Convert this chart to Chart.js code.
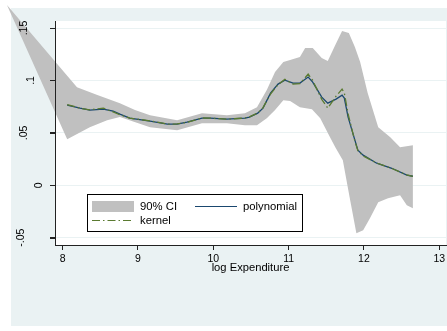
<!DOCTYPE html>
<html>
<head>
<meta charset="utf-8">
<script src="https://cdn.jsdelivr.net/npm/chart.js@4.4.0/dist/chart.umd.min.js"></script>
<style>
  html, body { margin: 0; padding: 0; background: #ffffff; }
  #wrap { width: 447px; height: 331px; position: relative; }
</style>
</head>
<body>
<div id="wrap"><canvas id="chart" width="447" height="331"></canvas></div>
<script>
// Axis ticks
const xTicks = [8, 9, 10, 11, 12, 13];
const yTicks = [-0.05, 0, 0.05, 0.1, 0.15];
const yTickLabels = ['-.05', '0', '.05', '.1', '.15'];

// 90% confidence band: upper bound
const ciUpperX = [7.26, 8.19, 8.46, 8.76, 8.96, 9.16, 9.52, 9.85, 10.18, 10.42, 10.58, 10.71, 10.82, 10.93, 11.02, 11.15, 11.22, 11.32, 11.44, 11.52, 11.62, 11.71, 11.80, 11.88, 11.95, 12.05, 12.19, 12.35, 12.48, 12.65];
const ciUpper  = [0.172, 0.0936, 0.0860, 0.0783, 0.0717, 0.0669, 0.0621, 0.0688, 0.0669, 0.0688, 0.0745, 0.0908, 0.1080, 0.1175, 0.1194, 0.1223, 0.1309, 0.1309, 0.1213, 0.1185, 0.1338, 0.1471, 0.1452, 0.1318, 0.1175, 0.0879, 0.0554, 0.0459, 0.0363, 0.0382];

// 90% confidence band: lower bound
const ciLowerX = [7.26, 8.06, 8.36, 8.59, 8.76, 9.16, 9.52, 9.85, 10.18, 10.42, 10.58, 10.71, 10.82, 10.93, 11.02, 11.15, 11.31, 11.42, 11.55, 11.62, 11.72, 11.81, 11.90, 11.99, 12.08, 12.19, 12.32, 12.48, 12.57, 12.65];
const ciLower  = [0.172, 0.0439, 0.0554, 0.0621, 0.0650, 0.0554, 0.0525, 0.0592, 0.0592, 0.0573, 0.0573, 0.0640, 0.0717, 0.0812, 0.0803, 0.0745, 0.0726, 0.0640, 0.0459, 0.0363, 0.0239, -0.0115, -0.0459, -0.0430, -0.0315, -0.0163, -0.0124, -0.0096, -0.0191, -0.0220];

// Fitted curves on a shared grid of log expenditure
const fitX  = [8.06, 8.23, 8.36, 8.54, 8.67, 8.76, 8.89, 9.16, 9.39, 9.52, 9.65, 9.85, 9.96, 10.18, 10.42, 10.48, 10.59, 10.66, 10.76, 10.86, 10.95, 11.06, 11.15, 11.26, 11.32, 11.44, 11.52, 11.63, 11.71, 11.74, 11.79, 11.88, 11.92, 11.99, 12.17, 12.37, 12.57, 12.65];
const polynomial = [0.0765, 0.0736, 0.0717, 0.0726, 0.0707, 0.0678, 0.0640, 0.0611, 0.0583, 0.0583, 0.0602, 0.0640, 0.0640, 0.0631, 0.0640, 0.0650, 0.0688, 0.0736, 0.0879, 0.0965, 0.1003, 0.0975, 0.0975, 0.1032, 0.0984, 0.0841, 0.0783, 0.0822, 0.0860, 0.0832, 0.0650, 0.0430, 0.0334, 0.0287, 0.0210, 0.0162, 0.0096, 0.0086];
const kernel     = [0.0770, 0.0735, 0.0720, 0.0735, 0.0700, 0.0672, 0.0640, 0.0615, 0.0583, 0.0585, 0.0600, 0.0642, 0.0640, 0.0630, 0.0641, 0.0652, 0.0690, 0.0740, 0.0870, 0.0960, 0.1012, 0.0965, 0.0970, 0.1060, 0.1000, 0.0820, 0.0736, 0.0850, 0.0917, 0.0880, 0.0680, 0.0420, 0.0330, 0.0280, 0.0212, 0.0160, 0.0098, 0.0085];

const FONT = "'Liberation Sans', Arial, Helvetica, sans-serif";
const BG = '#eaf2f3';
const AXIS = '#222222';
const CI_FILL = '#c0c0c0';
const POLY_COLOR = '#1a476f';
const KERN_COLOR = '#5a7a30';
const KERN_DASH = [8, 3, 1.5, 3];

// Horizontal nudge (px) of each vertical y label: short labels sit nearer the axis
const Y_LABEL_NUDGE = [-6, 12, -3, 4, -2.5];

const pts = (xs, ys) => xs.map((x, i) => ({ x: x, y: ys[i] }));

// Graph region and white plot region behind everything
const backdrop = {
  id: 'backdrop',
  beforeDraw(chart) {
    const { ctx, chartArea: a, width, height } = chart;
    ctx.save();
    ctx.fillStyle = '#ffffff';
    ctx.fillRect(0, 0, width, height);
    ctx.fillStyle = BG;
    ctx.fillRect(11, 8, width - 11, height - 13);
    ctx.fillStyle = '#ffffff';
    ctx.fillRect(a.left, a.top, a.right - a.left, a.bottom - a.top);
    ctx.restore();
  }
};

// Confidence band: polygon through the upper points and back along the lower points,
// left unclipped so it runs past the plot region like the original graph
const band = {
  id: 'band',
  beforeDatasetsDraw(chart) {
    const up = chart.getDatasetMeta(0).data;
    const lo = chart.getDatasetMeta(1).data;
    const ctx = chart.ctx;
    ctx.save();
    ctx.beginPath();
    up.forEach((p, i) => (i ? ctx.lineTo(p.x, p.y) : ctx.moveTo(p.x, p.y)));
    for (let i = lo.length - 1; i >= 0; i--) ctx.lineTo(lo[i].x, lo[i].y);
    ctx.closePath();
    ctx.fillStyle = CI_FILL;
    ctx.fill();

    // y tick marks stay visible above the band
    const ys = chart.scales.y;
    ctx.strokeStyle = AXIS;
    ctx.lineWidth = 1;
    yTicks.forEach(v => {
      const py = Math.round(ys.getPixelForValue(v)) + 0.5;
      ctx.beginPath();
      ctx.moveTo(ys.right - 5, py);
      ctx.lineTo(ys.right, py);
      ctx.stroke();
    });
    ctx.restore();
  }
};

// Boxed key inside the plot region
const keyBox = {
  id: 'keyBox',
  afterDatasetsDraw(chart) {
    const { ctx, chartArea: a } = chart;
    const left = a.left + 32, top = a.top + 173, w = 216, h = 38;
    ctx.save();
    ctx.fillStyle = '#ffffff';
    ctx.fillRect(left, top, w, h);
    ctx.strokeStyle = '#000000';
    ctx.lineWidth = 1;
    ctx.strokeRect(left + 0.5, top + 0.5, w - 1, h - 1);

    const row1 = top + 12.5, row2 = top + 26.5;
    ctx.fillStyle = CI_FILL;
    ctx.fillRect(left + 5, top + 7, 42, 11);

    ctx.lineWidth = 1.2;
    ctx.strokeStyle = POLY_COLOR;
    ctx.beginPath();
    ctx.moveTo(left + 108, row1);
    ctx.lineTo(left + 150, row1);
    ctx.stroke();

    ctx.strokeStyle = KERN_COLOR;
    ctx.setLineDash(KERN_DASH);
    ctx.beginPath();
    ctx.moveTo(left + 5, row2);
    ctx.lineTo(left + 47, row2);
    ctx.stroke();
    ctx.setLineDash([]);

    ctx.fillStyle = '#000000';
    ctx.font = '11.3px ' + FONT;
    ctx.textBaseline = 'middle';
    ctx.textAlign = 'left';
    ctx.fillText('90% CI', left + 53, row1);
    ctx.fillText('polynomial', left + 156, row1);
    ctx.fillText('kernel', left + 53, row2);
    ctx.restore();
  }
};

new Chart(document.getElementById('chart'), {
  type: 'line',
  data: {
    datasets: [
      {
        label: '90% CI',
        data: pts(ciUpperX, ciUpper),
        showLine: false,
        pointRadius: 0,
        fill: false,
        order: 4
      },
      {
        label: '90% CI lower',
        data: pts(ciLowerX, ciLower),
        showLine: false,
        pointRadius: 0,
        fill: false,
        order: 3
      },
      {
        label: 'polynomial',
        data: pts(fitX, polynomial),
        borderColor: POLY_COLOR,
        borderWidth: 1.3,
        pointRadius: 0,
        fill: false,
        order: 2
      },
      {
        label: 'kernel',
        data: pts(fitX, kernel),
        borderColor: KERN_COLOR,
        borderWidth: 1.3,
        borderDash: KERN_DASH,
        pointRadius: 0,
        fill: false,
        order: 1
      }
    ]
  },
  options: {
    responsive: false,
    animation: false,
    devicePixelRatio: 1,
    layout: { padding: { top: 21, left: 0, right: 1, bottom: 0 } },
    elements: { line: { tension: 0 } },
    plugins: {
      legend: { display: false },
      tooltip: { enabled: false }
    },
    scales: {
      x: {
        type: 'linear',
        min: 7.898,
        max: 13.09,
        afterBuildTicks(s) { s.ticks = xTicks.map(v => ({ value: v })); },
        afterFit(s) { s.height = 86; s.paddingLeft = 0; s.paddingRight = 0; },
        grid: { drawOnChartArea: false, drawTicks: true, tickLength: 5, tickColor: AXIS, lineWidth: 1 },
        border: { display: true, color: AXIS, width: 1, z: 1 },
        ticks: {
          autoSkip: false, maxRotation: 0, padding: 3, color: '#000000', z: 1,
          font: { family: FONT, size: 10.5 },
          callback: v => String(v)
        },
        title: {
          display: true, text: 'log Expenditure', color: '#000000',
          font: { family: FONT, size: 11.2 },
          padding: { top: 0, bottom: 56 }
        }
      },
      y: {
        type: 'linear',
        min: -0.057,
        max: 0.1567,
        afterBuildTicks(s) { s.ticks = yTicks.map(v => ({ value: v })); },
        afterFit(s) { s.width = 55; s.paddingTop = 0; s.paddingBottom = 0; },
        grid: { color: BG, lineWidth: 1, drawTicks: true, tickLength: 5, tickColor: AXIS },
        border: { display: true, color: AXIS, width: 1, z: 1 },
        ticks: {
          autoSkip: false, minRotation: 90, maxRotation: 90, crossAlign: 'center', padding: 14, z: 1,
          color: '#000000',
          // a blank companion line, sized per label, shifts the rotated text sideways
          font: c => ({
            family: FONT, size: 10.5,
            lineHeight: (2 * Math.abs(Y_LABEL_NUDGE[c.index] || 0)) + 'px'
          }),
          callback: (v, i) => {
            const k = yTicks.findIndex(t => Math.abs(t - v) < 1e-9);
            if (k < 0) return '';
            const s = Y_LABEL_NUDGE[k] || 0;
            if (s > 0) return ['', yTickLabels[k]];
            if (s < 0) return [yTickLabels[k], ''];
            return yTickLabels[k];
          }
        }
      }
    }
  },
  plugins: [backdrop, band, keyBox]
});
</script>
</body>
</html>
